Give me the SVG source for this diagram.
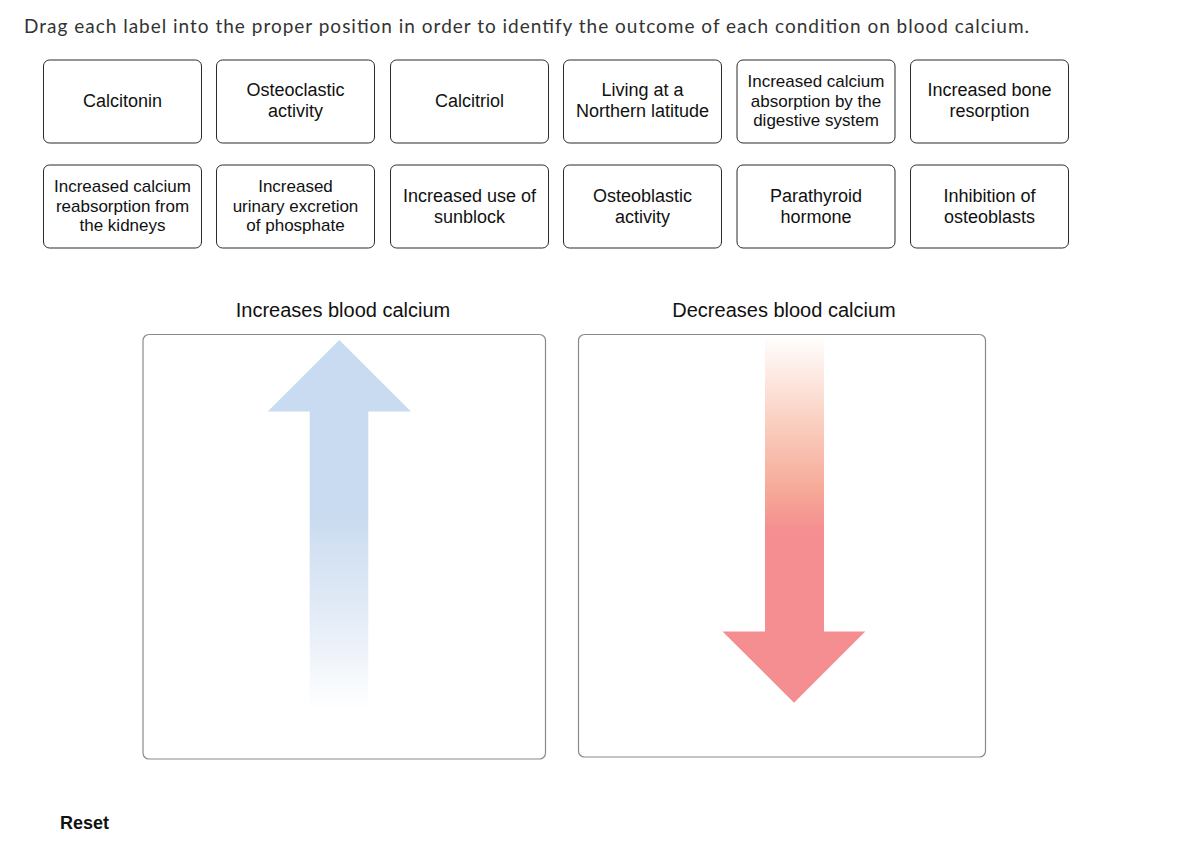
<svg xmlns="http://www.w3.org/2000/svg" width="1186" height="843" viewBox="0 0 1186 843">
<style>
.lbl rect{fill:#fff;stroke:#2b2b2b;stroke-width:1}
.lbl text{font-family:"Liberation Sans",Arial,sans-serif;font-size:18px;fill:#111;text-anchor:middle}
.lbl text.s{font-size:17px}
.panel{fill:#fff;stroke:#8a8a8a;stroke-width:1.2}
.ttl{font-family:"Liberation Sans",Arial,sans-serif;font-size:20px;fill:#111;text-anchor:middle}
</style>
<defs>
<linearGradient id="gUp" gradientUnits="userSpaceOnUse" x1="0" y1="340" x2="0" y2="710">
<stop offset="0" stop-color="#c9dbf0"/>
<stop offset="0.47" stop-color="#c9dbf0"/>
<stop offset="0.75" stop-color="#e4ecf7"/>
<stop offset="1" stop-color="#ffffff"/>
</linearGradient>
<linearGradient id="gDn" gradientUnits="userSpaceOnUse" x1="0" y1="335" x2="0" y2="530">
<stop offset="0" stop-color="#ffffff"/>
<stop offset="0.45" stop-color="#facfc0"/>
<stop offset="0.8" stop-color="#f6a997"/>
<stop offset="1" stop-color="#f58e91"/>
</linearGradient>
</defs>
<rect width="1186" height="843" fill="#fff"/>
<text x="24" y="33" font-family="Lato,'Liberation Sans',sans-serif" font-size="19" fill="#333" textLength="1005" lengthAdjust="spacing">Drag each label into the proper position in order to identify the outcome of each condition on blood calcium.</text>

<g id="n-calcitonin" class="lbl"><rect x="43.5" y="60" width="158" height="83" rx="6"/><text x="122.5" y="107">Calcitonin</text></g>
<g id="n-osteoclastic" class="lbl"><rect x="216.5" y="60" width="158" height="83" rx="6"/><text x="295.5" y="96">Osteoclastic</text><text x="295.5" y="117">activity</text></g>
<g id="n-calcitriol" class="lbl"><rect x="390.5" y="60" width="158" height="83" rx="6"/><text x="469.5" y="107">Calcitriol</text></g>
<g id="n-northern" class="lbl"><rect x="563.5" y="60" width="158" height="83" rx="6"/><text x="642.5" y="96">Living at a</text><text x="642.5" y="117">Northern latitude</text></g>
<g id="n-digestive" class="lbl"><rect x="737" y="60" width="158" height="83" rx="6"/><text class="s" x="816" y="87">Increased calcium</text><text class="s" x="816" y="106.5">absorption by the</text><text class="s" x="816" y="126">digestive system</text></g>
<g id="n-boneresorption" class="lbl"><rect x="910.5" y="60" width="158" height="83" rx="6"/><text x="989.5" y="96">Increased bone</text><text x="989.5" y="117">resorption</text></g>

<g id="n-kidneys" class="lbl"><rect x="43.5" y="165" width="158" height="83" rx="6"/><text class="s" x="122.5" y="192">Increased calcium</text><text class="s" x="122.5" y="211.5">reabsorption from</text><text class="s" x="122.5" y="231">the kidneys</text></g>
<g id="n-phosphate" class="lbl"><rect x="216.5" y="165" width="158" height="83" rx="6"/><text class="s" x="295.5" y="192">Increased</text><text class="s" x="295.5" y="211.5">urinary excretion</text><text class="s" x="295.5" y="231">of phosphate</text></g>
<g id="n-sunblock" class="lbl"><rect x="390.5" y="165" width="158" height="83" rx="6"/><text x="469.5" y="201.5">Increased use of</text><text x="469.5" y="222.5">sunblock</text></g>
<g id="n-osteoblastic" class="lbl"><rect x="563.5" y="165" width="158" height="83" rx="6"/><text x="642.5" y="201.5">Osteoblastic</text><text x="642.5" y="222.5">activity</text></g>
<g id="n-pth" class="lbl"><rect x="737" y="165" width="158" height="83" rx="6"/><text x="816" y="201.5">Parathyroid</text><text x="816" y="222.5">hormone</text></g>
<g id="n-inhibition" class="lbl"><rect x="910.5" y="165" width="158" height="83" rx="6"/><text x="989.5" y="201.5">Inhibition of</text><text x="989.5" y="222.5">osteoblasts</text></g>

<g id="increases">
<text class="ttl" x="343" y="317">Increases blood calcium</text>
<rect class="panel" x="143" y="334.5" width="402.5" height="424.5" rx="6"/>
<path d="M339.3,340 L411,411.5 L368.3,411.5 L368.3,710 L309.7,710 L309.7,411.5 L267.7,411.5 Z" fill="url(#gUp)"/>
</g>
<g id="decreases">
<text class="ttl" x="784" y="317">Decreases blood calcium</text>
<rect class="panel" x="578.5" y="334.5" width="407" height="422.5" rx="6"/>
<rect x="765" y="335" width="59" height="196" fill="url(#gDn)"/>
<path d="M765,530 L824,530 L824,631.5 L865.3,631.5 L794,702.7 L722.5,631.5 L765,631.5 Z" fill="#f58e91"/>
</g>
<g id="connectors"/>
<text x="60" y="829" font-family="'Liberation Sans',Arial,sans-serif" font-size="18" font-weight="bold" fill="#111">Reset</text>
</svg>
